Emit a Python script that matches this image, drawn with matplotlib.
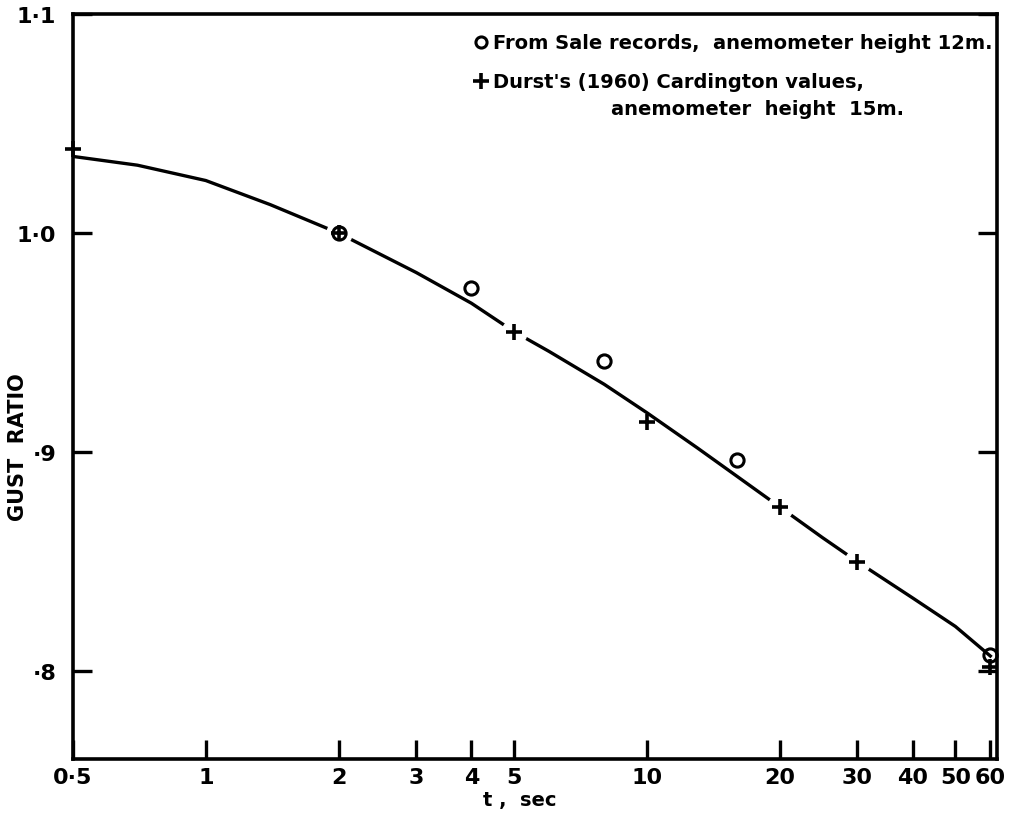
import matplotlib
matplotlib.use('Agg')
import matplotlib.pyplot as plt
import numpy as np

plt.rcParams['font.family'] = ['DejaVu Sans']
plt.rcParams['font.weight'] = 'bold'
plt.rcParams['axes.labelweight'] = 'bold'

# fitted curve
curve_t = [0.5, 0.7, 1, 1.4, 2, 3, 4, 5, 6, 8, 10, 13, 16, 20, 25, 30, 40, 50, 60]
curve_g = [1.035, 1.031, 1.024, 1.013, 1.0, 0.982, 0.968, 0.955, 0.946, 0.931,
           0.918, 0.902, 0.889, 0.875, 0.861, 0.850, 0.8335, 0.8205, 0.807]

# Sale records (circles)
sale_t = [2, 4, 8, 16, 60]
sale_g = [1.0, 0.975, 0.9415, 0.8965, 0.8075]

# Durst (1960) Cardington values (crosses)
durst_t = [0.5, 2, 5, 10, 20, 30, 60]
durst_g = [1.0385, 1.0, 0.955, 0.914, 0.875, 0.850, 0.802]

x_ticks = [0.5, 1, 2, 3, 4, 5, 10, 20, 30, 40, 50, 60]
x_labels = ['0·5', '1', '2', '3', '4', '5', '10', '20', '30', '40', '50', '60']
y_ticks = [0.8, 0.9, 1.0, 1.1]
y_labels = ['·8', '·9', '1·0', '1·1']

fig = plt.figure(figsize=(10.19, 8.2), dpi=100)
ax = fig.add_axes([0.0716, 0.0732, 0.9064, 0.9085])

ax.plot(curve_t, curve_g, color='black', lw=2.4, zorder=2)

# white gaps in the curve around some of the crosses
gap = [False, True, True, False, True, True, False]
ax.plot(np.array(durst_t)[gap], np.array(durst_g)[gap], ls='none', marker='o',
        ms=18, mfc='white', mec='white', zorder=2.2)

ax.plot(sale_t, sale_g, ls='none', marker='o', ms=9.5, mfc='none', mec='black',
        mew=2.2, zorder=3, clip_on=False)
ax.plot(durst_t, durst_g, ls='none', marker='+', ms=12, mec='black',
        mew=2.6, zorder=3.1, clip_on=False)

ax.set_xscale('log')
ax.set_xlim(0.5, 62)
ax.set_ylim(0.76, 1.1)
ax.set_xticks(x_ticks)
ax.set_xticklabels(x_labels)
ax.xaxis.set_minor_locator(matplotlib.ticker.NullLocator())
ax.set_yticks(y_ticks)
ax.set_yticklabels(y_labels)

ax.tick_params(axis='x', direction='in', length=14, width=2.4, labelsize=16, pad=6)
ax.tick_params(axis='y', direction='in', length=14, width=2.4, labelsize=16, pad=12,
               right=True)
for s in ax.spines.values():
    s.set_linewidth(2.6)

ax.set_xlabel('t ,  sec', fontsize=14)
ax.xaxis.set_label_coords(0.484, -0.042)
ax.set_ylabel('GUST  RATIO', fontsize=15)
ax.yaxis.set_label_coords(-0.06, 0.42)
ax.yaxis.label.set_va('center')

# key in the upper right
ax.plot([0.4416], [0.9624], transform=ax.transAxes, ls='none', marker='o', ms=8,
        mfc='none', mec='black', mew=2.2, clip_on=False)
ax.plot([0.4416], [0.910], transform=ax.transAxes, ls='none', marker='+', ms=11,
        mec='black', mew=2.6, clip_on=False)
ax.text(0.4545, 0.9624, 'From Sale records,  anemometer height 12m.', transform=ax.transAxes,
        fontsize=14, va='center', ha='left')
ax.text(0.4545, 0.910, "Durst's (1960) Cardington values,", transform=ax.transAxes,
        fontsize=14, va='center', ha='left')
ax.text(0.583, 0.8725, 'anemometer  height  15m.', transform=ax.transAxes,
        fontsize=14, va='center', ha='left')

fig.savefig('out.png', dpi=100)
